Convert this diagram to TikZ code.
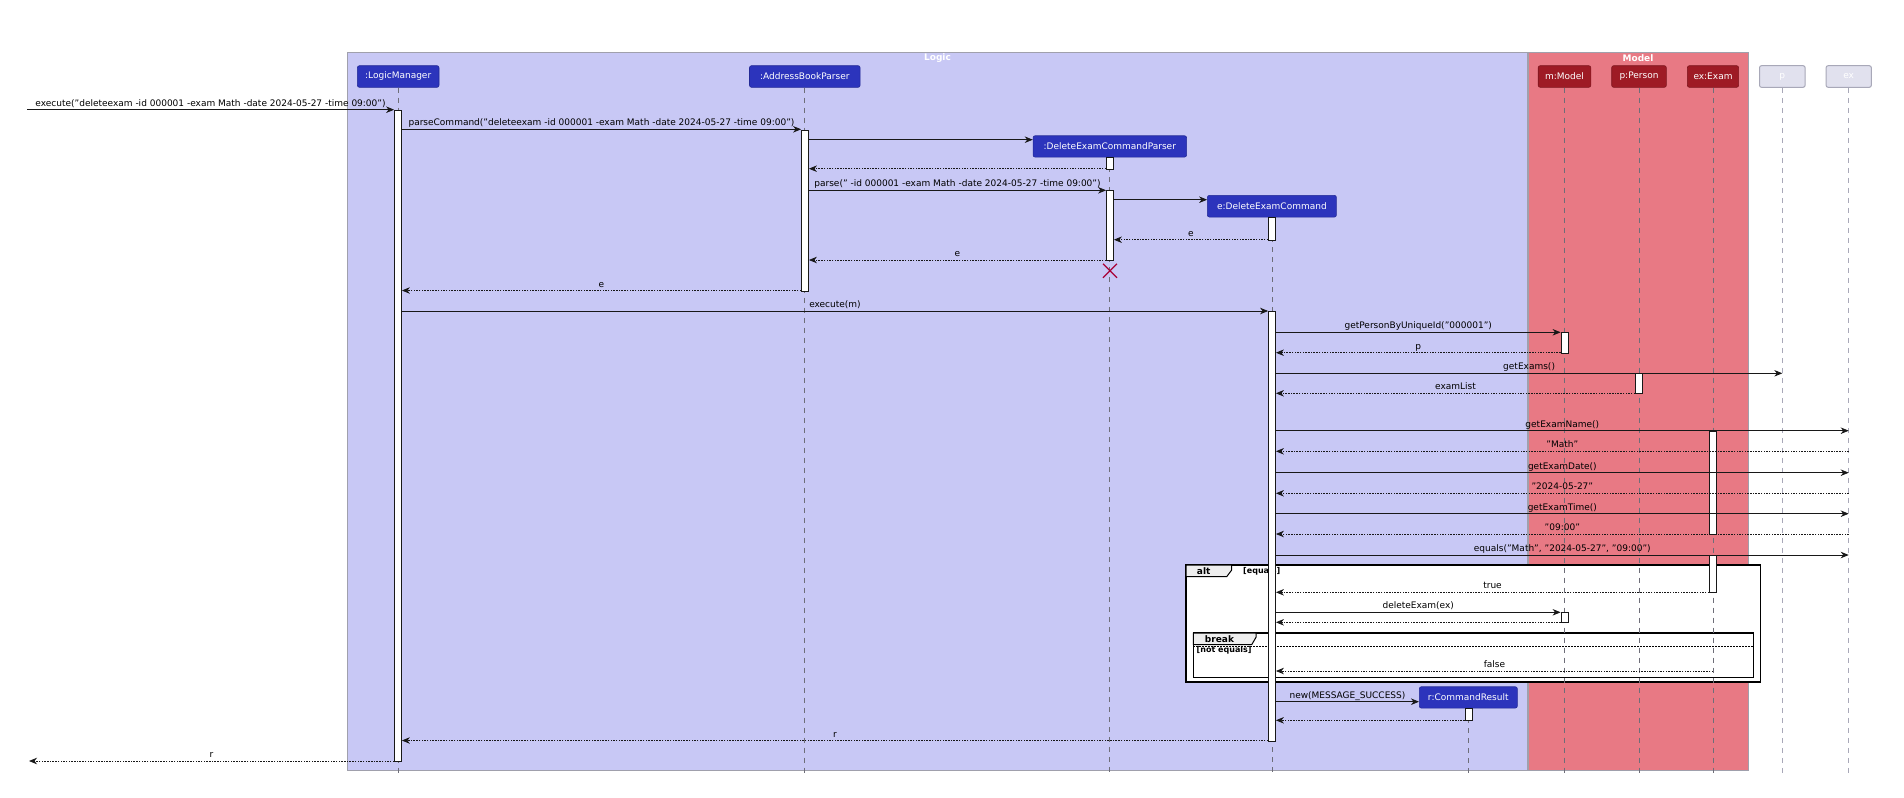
\documentclass[tikz,border=0pt]{standalone}
\usepackage{fontspec}
\setmainfont{DejaVu Sans}
\usetikzlibrary{arrows.meta,calc}
\definecolor{logicbg}{RGB}{200,200,245}
\definecolor{modelbg}{RGB}{232,121,132}
\definecolor{logicpart}{RGB}{44,52,188}
\definecolor{modelpart}{RGB}{158,27,37}
\definecolor{grayfill}{RGB}{225,225,238}
\definecolor{grayline}{RGB}{168,168,184}
\definecolor{boxline}{RGB}{160,160,172}
\definecolor{msgc}{RGB}{24,24,24}
\definecolor{lifec}{RGB}{110,110,120}
\definecolor{tabfill}{RGB}{238,238,238}
\definecolor{killc}{RGB}{168,0,54}
\newcommand\actbar[4]{\node[act, minimum height={#4-#3}, anchor=north] (#1) at (#2,#3) {};}
\newcommand\msgline[5]{%
  \draw[#1] (#2 |- 0,#4) -- (#3 |- 0,#4) coordinate[pos=0.5] (mid);
  \node[lbl] at ($(mid)+(0,-3.5)$) {#5};}
\begin{document}
\begin{tikzpicture}[x=1pt,y=-1pt,
  font=\fontsize{9}{11}\selectfont,
  part/.style={rectangle, rounded corners=2pt, text=white, inner sep=0pt, minimum height=21.6pt, line width=0.6pt},
  lpart/.style={part, fill=logicpart, draw=logicpart!80!black},
  mpart/.style={part, fill=modelpart, draw=modelpart!80!black},
  gpart/.style={part, fill=grayfill, draw=grayline, line width=1pt},
  lbl/.style={anchor=base, inner sep=0pt, text=black},
  msg/.style={draw=msgc, line width=0.8pt, -{Stealth[length=8pt,width=6.5pt,inset=2.5pt]}},
  ret/.style={msg, dash pattern=on 1.5pt off 1.2pt},
  act/.style={rectangle, draw=msgc, fill=white, line width=0.8pt, minimum width=7pt, inner sep=0pt},
  life/.style={draw=lifec, line width=0.7pt, dash pattern=on 5pt off 5pt},
  glife/.style={draw=grayline, line width=0.7pt, dash pattern=on 5pt off 5pt},
  frame/.style={draw=black, line width=1.2pt, fill=white},
  tabst/.style={draw=black, line width=1pt, fill=tabfill},
  grp/.style={line width=0.8pt, draw=boxline},
  ftext/.style={inner sep=0pt, font=\fontsize{9}{11}\selectfont\bfseries}
  ]
\useasboundingbox (0,0) rectangle (1904,798);
\fill[white] (0,0) rectangle (1904,798);

% group boxes
\path[grp, fill=logicbg] (347.5,52.3) rectangle (1527.5,770);
\path[grp, fill=modelbg] (1528,52.3) rectangle (1748.7,770);
\node[ftext, text=white] (tLogic) at (937.5,58) {Logic};
\node[ftext, text=white] (tModel) at (1638,58) {Model};

% participants
\node[lpart, minimum width=81.6pt] (pLM) at (398.2,76.5) {:LogicManager};
\node[lpart, minimum width=110.6pt] (pABP) at (804.8,76.5) {:AddressBookParser};
\node[lpart, minimum width=153.5pt, minimum height=21.3pt] (pDECP) at (1109.8,146.4) {:DeleteExamCommandParser};
\node[lpart, minimum width=129pt, minimum height=21.7pt] (pE) at (1271.9,206.2) {e:DeleteExamCommand};
\node[mpart, minimum width=52.6pt] (pM) at (1564.5,76.5) {m:Model};
\node[mpart, minimum width=54.6pt] (pP) at (1639,76.5) {p:Person};
\node[mpart, minimum width=51.3pt] (pEX) at (1713,76.5) {ex:Exam};
\node[gpart, minimum width=45.6pt] (pG) at (1782.3,76.5) {p};
\node[gpart, minimum width=45.2pt] (exG) at (1848.7,76.5) {ex};
\node[lpart, minimum width=98pt, minimum height=21.3pt] (pR) at (1468.3,697.4) {r:CommandResult};

% combined fragments
\draw[frame] (1186,565) rectangle (1760.5,682);
\draw[tabst] (1186,565) -- (1231.7,565) -- (1231.7,570) -- (1226.7,576.7) -- (1186,576.7) -- cycle;
\node[ftext] (altT) at (1203.7,571.3) {alt};
\node[ftext, anchor=west, font=\fontsize{8}{10}\selectfont\bfseries] (altG) at (1243,571.3) {[equals]};
\draw[frame] (1193.3,633) rectangle (1753.3,677.3);
\draw[black, line width=0.8pt, dash pattern=on 1.5pt off 1.5pt] (1193.3,646.3) -- (1753.3,646.3);
\draw[tabst] (1193.3,633) -- (1256,633) -- (1256,637.3) -- (1251.7,644.7) -- (1193.3,644.7) -- cycle;
\node[ftext] (brkT) at (1219.5,639) {break};
\node[ftext, anchor=west, font=\fontsize{8}{10}\selectfont\bfseries] (brkG) at (1196.5,650.5) {[not equals]};

% lifelines
\foreach \p in {pLM,pABP,pDECP,pE,pM,pP,pEX,pR}
  \draw[life] (\p.south) -- (\p.south |- 0,773.5);
\foreach \p in {pG,exG}
  \draw[glife] (\p.south) -- (\p.south |- 0,773.5);

% activation bars
\actbar{aLM}{398}{110}{761}
\actbar{aABP}{805}{130}{290.5}
\actbar{aDP1}{1110}{157}{168.7}
\actbar{aDP2}{1110}{190.3}{260}
\actbar{aE1}{1272}{217}{239.7}
\actbar{aE2}{1272}{311}{740.5}
\actbar{aM1}{1564.5}{332.3}{352.7}
\actbar{aP}{1639}{373.3}{393.3}
\actbar{aX1}{1713}{430.7}{534}
\actbar{aX2}{1713}{555}{592.3}
\actbar{aM2}{1564.5}{612.3}{622.3}
\actbar{aR}{1468.5}{708}{720.3}

% destroy mark
\draw[killc, line width=1.2pt] ($(aDP2.south)+(-7,3)$) -- ($(aDP2.south)+(7,17)$)
  ($(aDP2.south)+(7,3)$) -- ($(aDP2.south)+(-7,17)$);

% free ends
\coordinate (inS) at (27,109.7);
\coordinate (outE) at (29,761);

% messages
\msgline{msg}{inS}{aLM.west}{109.7}{execute("deleteexam -id 000001 -exam Math -date 2024-05-27 -time 09:00")}
\msgline{msg}{aLM.east}{aABP.west}{129.3}{parseCommand("deleteexam -id 000001 -exam Math -date 2024-05-27 -time 09:00")}
\draw[msg] (aABP.east |- 0,139.7) -- (pDECP.west |- 0,139.7);
\draw[ret] (aDP1.west |- 0,168.7) -- (aABP.east |- 0,168.7);
\msgline{msg}{aABP.east}{aDP2.west}{190.3}{parse(" -id 000001 -exam Math -date 2024-05-27 -time 09:00")}
\draw[msg] (aDP2.east |- 0,199.7) -- (pE.west |- 0,199.7);
\msgline{ret}{aE1.west}{aDP2.east}{239.7}{e}
\msgline{ret}{aDP2.west}{aABP.east}{260}{e}
\msgline{ret}{aABP.west}{aLM.east}{290.5}{e}
\msgline{msg}{aLM.east}{aE2.west}{311}{execute(m)}
\msgline{msg}{aE2.east}{aM1.west}{332.3}{getPersonByUniqueId("000001")}
\msgline{ret}{aM1.west}{aE2.east}{352.7}{p}
\msgline{msg}{aE2.east}{pG}{373.3}{getExams()}
\msgline{ret}{aP.west}{aE2.east}{393.3}{examList}
\msgline{msg}{aE2.east}{exG}{430.7}{getExamName()}
\msgline{ret}{exG}{aE2.east}{451.3}{"Math"}
\msgline{msg}{aE2.east}{exG}{472.7}{getExamDate()}
\msgline{ret}{exG}{aE2.east}{493.3}{"2024-05-27"}
\msgline{msg}{aE2.east}{exG}{513.7}{getExamTime()}
\msgline{ret}{exG}{aE2.east}{534}{"09:00"}
\msgline{msg}{aE2.east}{exG}{555}{equals("Math", "2024-05-27", "09:00")}
\msgline{ret}{aX2.west}{aE2.east}{592.3}{true}
\msgline{msg}{aE2.east}{aM2.west}{612.3}{deleteExam(ex)}
\draw[ret] (aM2.west |- 0,622.3) -- (aE2.east |- 0,622.3);
\msgline{ret}{pEX}{aE2.east}{671}{false}
\msgline{msg}{aE2.east}{pR.west}{701.7}{new(MESSAGE\_SUCCESS)}
\draw[ret] (aR.west |- 0,720.3) -- (aE2.east |- 0,720.3);
\msgline{ret}{aE2.west}{aLM.east}{740.5}{r}
\msgline{ret}{aLM.west}{outE}{761}{r}
\end{tikzpicture}
\end{document}
